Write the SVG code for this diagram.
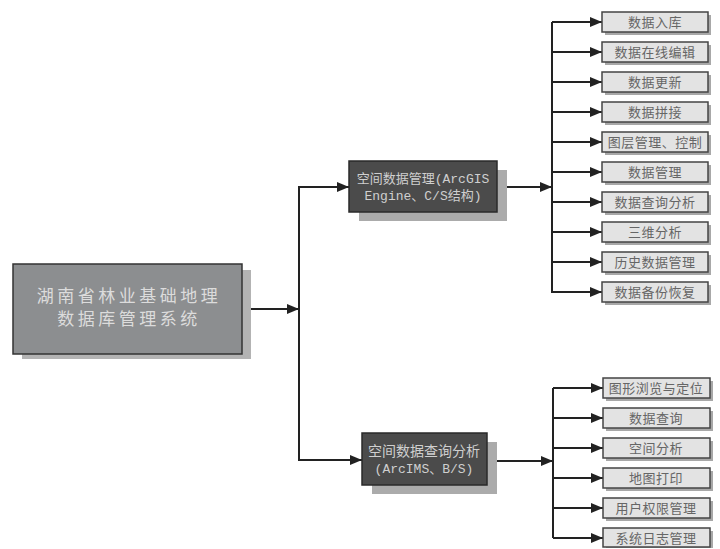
<svg xmlns="http://www.w3.org/2000/svg" width="720" height="549" viewBox="0 0 720 549">
<style>
.ln{stroke:#222;stroke-width:2;fill:none}
.arr{marker-end:url(#ah)}
.leaf{fill:#e3e3e3;stroke:#444;stroke-width:1.5}
.lsh{fill:#a8a8a8}
.lt{font-family:"Noto Sans CJK SC","Noto Sans",sans-serif;font-size:13px;fill:#666;text-anchor:middle;letter-spacing:0.5px}
.mid{fill:#4b4b4b;stroke:#2a2a2a;stroke-width:1.5}
.msh{fill:#ababab}
.mt{font-family:"Liberation Mono","Noto Sans CJK SC",monospace;font-size:13px;fill:#cfcfcf;text-anchor:middle}
.rt{font-family:"Noto Sans CJK SC",sans-serif;font-size:17px;fill:#dcdcdc;text-anchor:middle;letter-spacing:3.5px}
</style>
<defs>
<marker id="ah" markerUnits="userSpaceOnUse" markerWidth="13" markerHeight="11" refX="12" refY="5" orient="auto">
<path d="M0,0 L12,5 L0,10 z" fill="#222"/>
</marker>
</defs>
<rect width="720" height="549" fill="#fff"/>
<g id="connectors">
<path class="ln arr" d="M242,309 H299"/>
<path class="ln" d="M299,186 V461"/>
<path class="ln arr" d="M299,187 H349"/>
<path class="ln arr" d="M299,460 H362"/>
<path class="ln arr" d="M497,187 H552"/>
<path class="ln arr" d="M487,461 H553"/>
<path class="ln" d="M552,22 V293"/>
<path class="ln" d="M553,388 V538"/>
<path class="ln arr" d="M552,22 H602"/>
<path class="ln arr" d="M552,52 H602"/>
<path class="ln arr" d="M552,82 H602"/>
<path class="ln arr" d="M552,112 H602"/>
<path class="ln arr" d="M552,142 H602"/>
<path class="ln arr" d="M552,172 H602"/>
<path class="ln arr" d="M552,202 H602"/>
<path class="ln arr" d="M552,232 H602"/>
<path class="ln arr" d="M552,262 H602"/>
<path class="ln arr" d="M552,292 H602"/>
<path class="ln arr" d="M553,388 H603"/>
<path class="ln arr" d="M553,418 H603"/>
<path class="ln arr" d="M553,448 H603"/>
<path class="ln arr" d="M553,478 H603"/>
<path class="ln arr" d="M553,508 H603"/>
<path class="ln arr" d="M553,538 H603"/>
</g>
<g id="root">
<rect x="22" y="270" width="229" height="89" fill="#b3b3b3"/>
<rect x="13" y="264" width="229" height="90" fill="#8c8e90" stroke="#333" stroke-width="1.5"/>
<text class="rt" x="129" y="302">湖南省林业基础地理</text>
<text class="rt" x="129" y="325">数据库管理系统</text>
</g>
<g id="n-spatial-mgmt">
<rect class="msh" x="359" y="170" width="148" height="51"/>
<rect class="mid" x="349" y="161" width="148" height="51"/>
<text class="mt" x="423" y="183">空间数据管理(ArcGIS</text>
<text class="mt" x="423" y="200">Engine、C/S结构)</text>
</g>
<g id="n-spatial-query">
<rect class="msh" x="372" y="442" width="125" height="52"/>
<rect class="mid" x="362" y="433" width="125" height="52"/>
<text class="mt" x="424" y="456" style="font-size:14px">空间数据查询分析</text>
<text class="mt" x="424" y="473">(ArcIMS、B/S)</text>
</g>
<g id="l1"><rect class="lsh" x="605" y="15" width="106" height="20"/><rect class="leaf" x="602" y="12" width="106" height="20"/><text class="lt" x="655" y="27">数据入库</text></g>
<g id="l2"><rect class="lsh" x="605" y="45" width="106" height="20"/><rect class="leaf" x="602" y="42" width="106" height="20"/><text class="lt" x="655" y="57">数据在线编辑</text></g>
<g id="l3"><rect class="lsh" x="605" y="75" width="106" height="20"/><rect class="leaf" x="602" y="72" width="106" height="20"/><text class="lt" x="655" y="87">数据更新</text></g>
<g id="l4"><rect class="lsh" x="605" y="105" width="106" height="20"/><rect class="leaf" x="602" y="102" width="106" height="20"/><text class="lt" x="655" y="117">数据拼接</text></g>
<g id="l5"><rect class="lsh" x="605" y="135" width="106" height="20"/><rect class="leaf" x="602" y="132" width="106" height="20"/><text class="lt" x="655" y="147">图层管理、控制</text></g>
<g id="l6"><rect class="lsh" x="605" y="165" width="106" height="20"/><rect class="leaf" x="602" y="162" width="106" height="20"/><text class="lt" x="655" y="177">数据管理</text></g>
<g id="l7"><rect class="lsh" x="605" y="195" width="106" height="20"/><rect class="leaf" x="602" y="192" width="106" height="20"/><text class="lt" x="655" y="207">数据查询分析</text></g>
<g id="l8"><rect class="lsh" x="605" y="225" width="106" height="20"/><rect class="leaf" x="602" y="222" width="106" height="20"/><text class="lt" x="655" y="237">三维分析</text></g>
<g id="l9"><rect class="lsh" x="605" y="255" width="106" height="20"/><rect class="leaf" x="602" y="252" width="106" height="20"/><text class="lt" x="655" y="267">历史数据管理</text></g>
<g id="l10"><rect class="lsh" x="605" y="285" width="106" height="20"/><rect class="leaf" x="602" y="282" width="106" height="20"/><text class="lt" x="655" y="297">数据备份恢复</text></g>
<g id="b1"><rect class="lsh" x="606" y="381" width="107" height="20"/><rect class="leaf" x="603" y="378" width="107" height="20"/><text class="lt" x="656" y="393">图形浏览与定位</text></g>
<g id="b2"><rect class="lsh" x="606" y="411" width="107" height="20"/><rect class="leaf" x="603" y="408" width="107" height="20"/><text class="lt" x="656" y="423">数据查询</text></g>
<g id="b3"><rect class="lsh" x="606" y="441" width="107" height="20"/><rect class="leaf" x="603" y="438" width="107" height="20"/><text class="lt" x="656" y="453">空间分析</text></g>
<g id="b4"><rect class="lsh" x="606" y="471" width="107" height="20"/><rect class="leaf" x="603" y="468" width="107" height="20"/><text class="lt" x="656" y="483">地图打印</text></g>
<g id="b5"><rect class="lsh" x="606" y="501" width="107" height="20"/><rect class="leaf" x="603" y="498" width="107" height="20"/><text class="lt" x="656" y="513">用户权限管理</text></g>
<g id="b6"><rect class="lsh" x="606" y="531" width="107" height="17"/><rect class="leaf" x="603" y="528" width="107" height="19"/><text class="lt" x="656" y="543">系统日志管理</text></g>
</svg>
